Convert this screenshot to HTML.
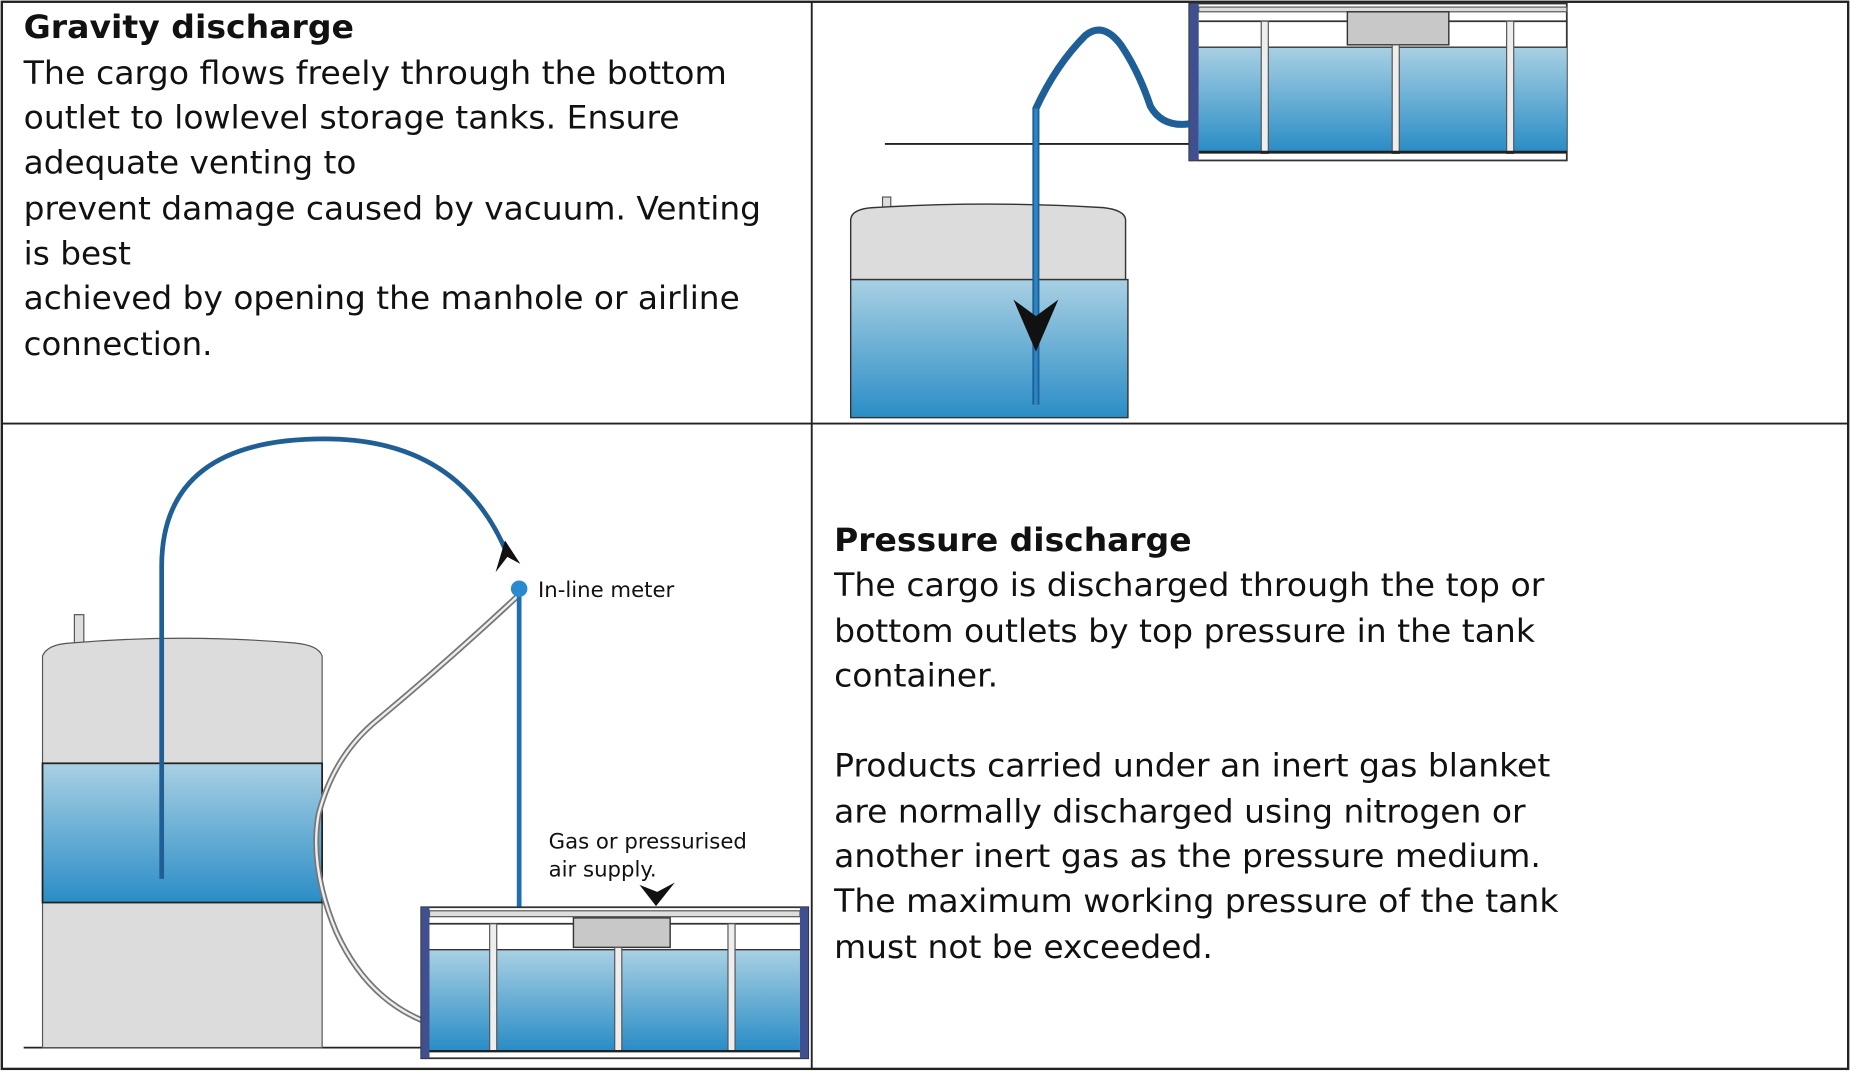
<!DOCTYPE html>
<html><head><meta charset="utf-8"><style>
html,body{margin:0;padding:0;background:#fff;}
svg{display:block;}
text{font-family:"DejaVu Sans","Liberation Sans",sans-serif;fill:#111;}
</style></head><body>
<svg width="1850" height="1071" viewBox="0 0 1568 907.8" xmlns="http://www.w3.org/2000/svg">
<defs>
<linearGradient id="w" x1="0" y1="0" x2="0" y2="1">
<stop offset="0" stop-color="#a9d0e3"/><stop offset="1" stop-color="#2a8dc6"/>
</linearGradient>
</defs>
<!-- table -->
<rect x="1.5" y="1.5" width="1565" height="904.5" fill="none" stroke="#222" stroke-width="2"/>
<line x1="688" y1="1" x2="688" y2="907" stroke="#222" stroke-width="1.6"/>
<line x1="1" y1="359" x2="1567" y2="359" stroke="#222" stroke-width="1.6"/>

<!-- text top-left -->
<g font-size="27">
<text x="20" y="32" font-weight="bold" textLength="280" lengthAdjust="spacingAndGlyphs">Gravity discharge</text>
<text x="20" y="71" textLength="596" lengthAdjust="spacingAndGlyphs">The cargo flows freely through the bottom</text>
<text x="20" y="109" textLength="556" lengthAdjust="spacingAndGlyphs">outlet to lowlevel storage tanks. Ensure</text>
<text x="20" y="147" textLength="282" lengthAdjust="spacingAndGlyphs">adequate venting to</text>
<text x="20" y="186" textLength="625" lengthAdjust="spacingAndGlyphs">prevent damage caused by vacuum. Venting</text>
<text x="20" y="224" textLength="91" lengthAdjust="spacingAndGlyphs">is best</text>
<text x="20" y="262" textLength="607" lengthAdjust="spacingAndGlyphs">achieved by opening the manhole or airline</text>
<text x="20" y="301" textLength="160" lengthAdjust="spacingAndGlyphs">connection.</text>

<text x="707" y="467" font-weight="bold" textLength="303" lengthAdjust="spacingAndGlyphs">Pressure discharge</text>
<text x="707" y="505" textLength="602" lengthAdjust="spacingAndGlyphs">The cargo is discharged through the top or</text>
<text x="707" y="544" textLength="594" lengthAdjust="spacingAndGlyphs">bottom outlets by top pressure in the tank</text>
<text x="707" y="582" textLength="139" lengthAdjust="spacingAndGlyphs">container.</text>
<text x="707" y="658" textLength="607" lengthAdjust="spacingAndGlyphs">Products carried under an inert gas blanket</text>
<text x="707" y="697" textLength="586" lengthAdjust="spacingAndGlyphs">are normally discharged using nitrogen or</text>
<text x="707" y="735" textLength="599" lengthAdjust="spacingAndGlyphs">another inert gas as the pressure medium.</text>
<text x="707" y="773" textLength="614" lengthAdjust="spacingAndGlyphs">The maximum working pressure of the tank</text>
<text x="707" y="812" textLength="321" lengthAdjust="spacingAndGlyphs">must not be exceeded.</text>
</g>

<!-- ===== top-right diagram ===== -->
<line x1="750" y1="122" x2="1010" y2="122" stroke="#222" stroke-width="1.5"/>
<!-- truck tank -->
<rect x="1008" y="3" width="320" height="133" fill="#fff" stroke="#333" stroke-width="1.5"/>
<rect x="1016" y="6" width="312" height="4" fill="#ddd" stroke="#555" stroke-width="1"/>
<line x1="1016" y1="18" x2="1328" y2="18" stroke="#333" stroke-width="1.5"/>
<rect x="1016" y="40" width="312" height="88" fill="url(#w)"/>
<line x1="1016" y1="40" x2="1328" y2="40" stroke="#333" stroke-width="1.2"/>
<rect x="1142" y="10" width="86" height="28" fill="#c8c8c8" stroke="#333" stroke-width="1.2"/>
<rect x="1069" y="18" width="6" height="112" fill="#eee" stroke="#555" stroke-width="1"/>
<rect x="1180" y="38" width="6" height="92" fill="#eee" stroke="#555" stroke-width="1"/>
<rect x="1277" y="18" width="6" height="112" fill="#eee" stroke="#555" stroke-width="1"/>
<rect x="1008" y="3" width="8" height="133" fill="#3f4f8f"/>
<line x1="1016" y1="129" x2="1328" y2="129" stroke="#222" stroke-width="2.5"/>
<!-- storage tank -->
<rect x="748" y="167" width="7" height="14" fill="#ddd" stroke="#555" stroke-width="1"/>
<path d="M721 186 Q722 177 740 176 Q838 170 935 176 Q953 178 954 186 L954 237 L721 237 Z" fill="#dcdcdc" stroke="#333" stroke-width="1.2"/>
<rect x="721" y="237" width="235" height="117" fill="url(#w)" stroke="#333" stroke-width="1.2"/>
<!-- hose -->
<path d="M1008 105 Q985 108 975 90 Q965 60 950 38 Q935 18 920 30 Q895 55 878 92 L878 343" fill="none" stroke="#1d5f96" stroke-width="6"/>
<path d="M878 343 L878 92" fill="none" stroke="#2c86c4" stroke-width="3"/>
<path d="M859 254 L878 298 L897 254 L878 268 Z" fill="#111"/>

<!-- ===== bottom-left diagram ===== -->
<line x1="20" y1="888" x2="360" y2="888" stroke="#222" stroke-width="1.5"/>
<rect x="63" y="521" width="8" height="24" fill="#ddd" stroke="#555" stroke-width="1"/>
<path d="M36 556 Q40 546 60 545 Q155 537 250 545 Q270 547 273 556 L273 888 L36 888 Z" fill="#dcdcdc" stroke="#555" stroke-width="1"/>
<rect x="36" y="647" width="237" height="118" fill="url(#w)" stroke="#222" stroke-width="1.5"/>
<!-- gray hose -->
<path d="M440 504 Q380 560 320 610 Q283 640 270 690 Q262 735 285 790 Q310 845 358 865" fill="none" stroke="#777" stroke-width="5"/>
<path d="M440 504 Q380 560 320 610 Q283 640 270 690 Q262 735 285 790 Q310 845 358 865" fill="none" stroke="#eee" stroke-width="2"/>
<!-- blue pipe -->
<path d="M137 745 L137 480 Q137 372 275 372 Q390 372 430 470" fill="none" stroke="#1f5f95" stroke-width="4"/>
<path d="M420 485 L428 458 L441 478 L430 472 Z" fill="#111"/>
<line x1="440" y1="499" x2="440" y2="770" stroke="#1f6fb0" stroke-width="4"/>
<circle cx="440" cy="499" r="7" fill="#2a8ad0"/>
<text x="456" y="506" font-size="18" fill="#333" font-family="Liberation Sans, sans-serif">In-line meter</text>
<text x="465" y="719" font-size="18" fill="#333" font-family="Liberation Sans, sans-serif">Gas or pressurised</text>
<text x="465" y="743" font-size="18" fill="#333" font-family="Liberation Sans, sans-serif">air supply.</text>
<path d="M542 750 L556 768 L572 748 L557 756 Z" fill="#111"/>
<!-- truck tank -->
<rect x="357" y="769" width="328" height="128" fill="#fff" stroke="#333" stroke-width="1.5"/>
<rect x="364" y="772" width="314" height="5" fill="#ddd" stroke="#555" stroke-width="1"/>
<line x1="364" y1="783" x2="678" y2="783" stroke="#333" stroke-width="1.5"/>
<rect x="364" y="805" width="314" height="85" fill="url(#w)"/>
<line x1="364" y1="805" x2="678" y2="805" stroke="#333" stroke-width="1.2"/>
<rect x="486" y="778" width="82" height="25" fill="#c8c8c8" stroke="#333" stroke-width="1.2"/>
<rect x="415" y="783" width="6" height="108" fill="#eee" stroke="#555" stroke-width="1"/>
<rect x="521" y="803" width="6" height="88" fill="#eee" stroke="#555" stroke-width="1"/>
<rect x="617" y="783" width="6" height="108" fill="#eee" stroke="#555" stroke-width="1"/>
<rect x="357" y="769" width="7" height="128" fill="#3f4f8f"/>
<rect x="678" y="769" width="7" height="128" fill="#3f4f8f"/>
<line x1="364" y1="891" x2="678" y2="891" stroke="#222" stroke-width="2"/>
</svg>
</body></html>
